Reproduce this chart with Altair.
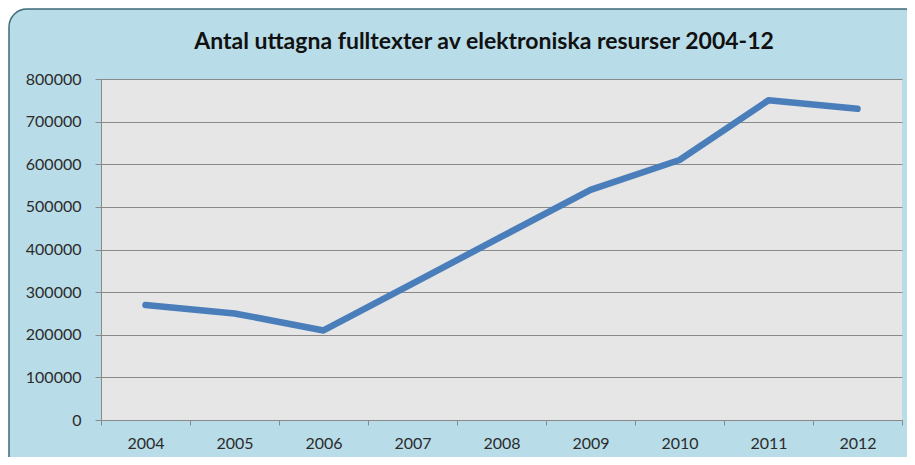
import altair as alt
import pandas as pd

years = ["2004", "2005", "2006", "2007", "2008", "2009", "2010", "2011", "2012"]
values = [270000, 250000, 210000, 320000, 430000, 540000, 610000, 750000, 730000]
y_ticks = [0, 100000, 200000, 300000, 400000, 500000, 600000, 700000, 800000]
title_text = "Antal uttagna fulltexter av elektroniska resurser 2004-12"

W, H = 801, 341
FONT = "Lato"
BG = "#b8dde8"
PLOT_BG = "#e6e6e6"
GRID = "#8a8a8a"
LINE = "#4a7ebb"
BORDER = "#3d6b78"

df = pd.DataFrame({"year": years, "value": values})

line = alt.Chart(df).mark_line(
    color=LINE, strokeWidth=6.5, strokeCap="round", strokeJoin="round"
).encode(
    x=alt.X(
        "year:O",
        sort=years,
        scale=alt.Scale(type="band", paddingInner=0, paddingOuter=0),
        axis=alt.Axis(
            title=None, labelAngle=0, tickBand="extent", grid=False,
            tickSize=5, tickColor=GRID, domainColor=GRID,
            labelPadding=10, labelFont=FONT, labelFontSize=16, labelColor="#2b2b2b",
        ),
    ),
    y=alt.Y(
        "value:Q",
        scale=alt.Scale(domain=[0, 800000], nice=False),
        axis=alt.Axis(
            title=None, values=y_ticks, format="d", grid=True, gridColor=GRID,
            gridOpacity=1, tickSize=6, tickColor=GRID, domainColor=GRID,
            labelPadding=14, labelFont=FONT, labelFontSize=16, labelColor="#2b2b2b",
        ),
    ),
)

one = alt.Data(values=[{"t": title_text}])

white_outer = alt.Chart(one).mark_rect(
    fillOpacity=0, stroke="white", strokeWidth=20, cornerRadius=28
).encode(x=alt.value(-102), x2=alt.value(846), y=alt.value(-80), y2=alt.value(418))

border = alt.Chart(one).mark_rect(
    fillOpacity=0, stroke=BORDER, strokeWidth=1.5, cornerRadius=18
).encode(x=alt.value(-92), x2=alt.value(836), y=alt.value(-70), y2=alt.value(408))

title = alt.Chart(one).mark_text(
    font=FONT, fontWeight="bold", fontSize=23, color="#111111",
    align="center", baseline="alphabetic",
).encode(x=alt.value(383), y=alt.value(-30), text="t:N")

chart = alt.layer(line, white_outer, border, title).properties(
    width=W, height=H,
    autosize=alt.AutoSizeParams(type="none"),
    padding={"left": 93, "top": 71, "right": 5, "bottom": 37},
    background=BG,
).configure_view(fill=PLOT_BG, strokeWidth=0)

chart.save("out.html", embed_options={"renderer": "svg", "actions": False})
